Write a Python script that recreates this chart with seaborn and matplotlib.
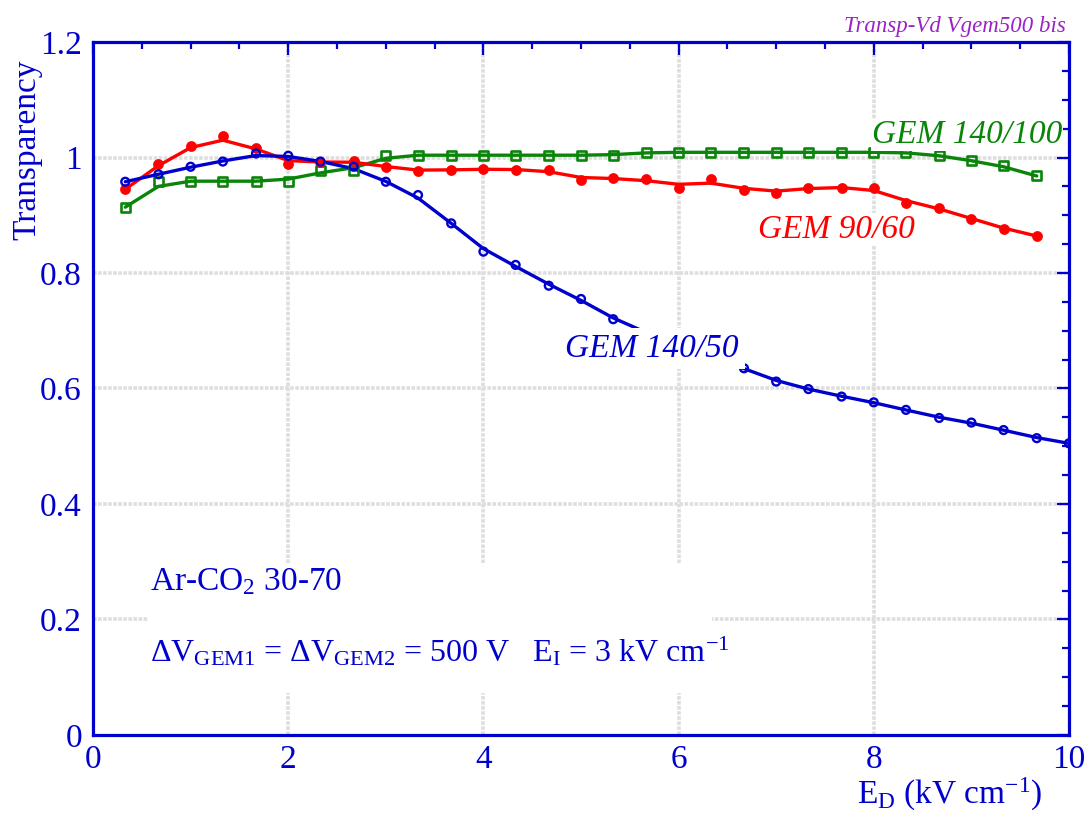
import numpy as np
import pandas as pd
import matplotlib
matplotlib.use("Agg")
import matplotlib.pyplot as plt
import seaborn as sns
from matplotlib.ticker import MultipleLocator
from matplotlib.patches import Rectangle

# ---------------- data ----------------
ed_field = [0.33, 0.67, 1.0, 1.33, 1.67, 2.0, 2.33, 2.67, 3.0, 3.33, 3.67, 4.0,
            4.33, 4.67, 5.0, 5.33, 5.67, 6.0, 6.33, 6.67, 7.0, 7.33, 7.67, 8.0,
            8.33, 8.67, 9.0, 9.33, 9.67]
ed_field_blue = ed_field + [10.0]

gem_140_50 = [0.958, 0.971, 0.984, 0.993, 1.007, 1.003, 0.993, 0.984, 0.958,
              0.935, 0.886, 0.837, 0.814, 0.778, 0.755, 0.720, 0.696, 0.676,
              0.655, 0.635, 0.612, 0.599, 0.586, 0.576, 0.563, 0.549, 0.541,
              0.528, 0.514, 0.505]
gem_90_60 = [0.945, 0.988, 1.020, 1.038, 1.016, 0.988, 0.993, 0.994, 0.984,
             0.976, 0.979, 0.980, 0.979, 0.979, 0.961, 0.965, 0.962, 0.948,
             0.962, 0.944, 0.939, 0.948, 0.948, 0.948, 0.922, 0.913, 0.894,
             0.877, 0.864]
gem_140_100 = [0.914, 0.959, 0.959, 0.959, 0.959, 0.959, 0.977, 0.977, 1.004,
               1.004, 1.004, 1.004, 1.004, 1.004, 1.004, 1.004, 1.009, 1.009,
               1.009, 1.009, 1.009, 1.009, 1.009, 1.009, 1.009, 1.004, 0.994,
               0.986, 0.968]

series_labels = ["GEM 140/50", "GEM 90/60", "GEM 140/100"]
x_ticks = [0, 2, 4, 6, 8, 10]
y_ticks = [0, 0.2, 0.4, 0.6, 0.8, 1.0, 1.2]
y_tick_labels = ["0", "0.2", "0.4", "0.6", "0.8", "1", "1.2"]

BLUE = "#0000cc"
RED = "#ff0000"
GREEN = "#0a850a"
PURPLE = "#9a22c8"


def smooth(values):
    v = np.asarray(values, dtype=float)
    out = v.copy()
    out[1:-1] = 0.2 * v[:-2] + 0.6 * v[1:-1] + 0.2 * v[2:]
    return out


# ---------------- style ----------------
sns.set_style("white")
plt.rcParams["font.family"] = ["Liberation Serif", "DejaVu Serif"]
plt.rcParams["mathtext.fontset"] = "custom"
plt.rcParams["mathtext.rm"] = "Liberation Serif"
plt.rcParams["mathtext.it"] = "Liberation Serif:italic"

fig = plt.figure(figsize=(10.87, 8.19), dpi=100)
ax = fig.add_axes([0.0856, 0.1026, 0.8978, 0.8461])

# grid
for gx in [2, 4, 6, 8]:
    ax.axvline(gx, color="#dedede", lw=2.6, ls=(0, (1, 0.4)), zorder=0.5)
for gy in [0.2, 0.4, 0.6, 0.8, 1.0]:
    ax.axhline(gy, color="#dedede", lw=2.6, ls=(0, (1, 0.4)), zorder=0.5)

df_b = pd.DataFrame({"x": ed_field_blue, "y": gem_140_50, "ys": smooth(gem_140_50)})
df_r = pd.DataFrame({"x": ed_field, "y": gem_90_60, "ys": smooth(gem_90_60)})
df_g = pd.DataFrame({"x": ed_field, "y": gem_140_100, "ys": smooth(gem_140_100)})

for df, col in [(df_g, GREEN), (df_r, RED), (df_b, BLUE)]:
    sns.lineplot(data=df, x="x", y="ys", color=col, lw=2.4, ax=ax,
                 sort=False, estimator=None, zorder=3)

sns.scatterplot(data=df_g, x="x", y="y", marker="s", s=42, facecolors="none",
                edgecolors=GREEN, linewidth=1.9, ax=ax, zorder=4)
sns.scatterplot(data=df_r, x="x", y="y", marker="o", s=52, color=RED,
                edgecolor=RED, linewidth=0.5, ax=ax, zorder=4)
sns.scatterplot(data=df_b, x="x", y="y", marker="o", s=32, facecolors="none",
                edgecolors=BLUE, linewidth=1.7, ax=ax, zorder=4)

# axes
ax.set_xlim(0, 10)
ax.set_ylim(0, 1.2)
ax.set_xticks(x_ticks)
ax.set_xticklabels([str(t) for t in x_ticks])
ax.set_yticks(y_ticks)
ax.set_yticklabels(y_tick_labels)
ax.xaxis.set_minor_locator(MultipleLocator(0.5))
ax.yaxis.set_minor_locator(MultipleLocator(0.05))
ax.tick_params(which="both", direction="in", top=True, right=True,
               colors=BLUE, width=1.6, labelsize=24, labelcolor=BLUE)
ax.tick_params(which="major", length=9)
ax.tick_params(which="minor", length=5)
ax.tick_params(axis="x", which="major", pad=7)
ax.tick_params(axis="y", which="major", pad=8)
ax.tick_params(top=True, right=True, labeltop=False, labelright=False)
for sp in ax.spines.values():
    sp.set_color(BLUE)
    sp.set_linewidth(2.3)
    sp.set_zorder(10)

ax.set_xlabel(r"E$_{\rm D}$ (kV cm$^{-1}$)", fontsize=24, color=BLUE)
ax.xaxis.set_label_coords(0.878, -0.059)
ax.set_ylabel("Transparency", fontsize=24, color=BLUE)
ax.yaxis.set_label_coords(-0.052, 0.845)

# curve labels with white background
box = dict(facecolor="white", edgecolor="none", pad=4)
ax.text(4.84, 0.655, series_labels[0], color=BLUE, fontsize=24, style="italic",
        ha="left", va="baseline", bbox=box, zorder=6)
ax.text(6.81, 0.861, series_labels[1], color=RED, fontsize=24, style="italic",
        ha="left", va="baseline", bbox=dict(facecolor="white", edgecolor="none", pad=1),
        zorder=6)
ax.text(7.98, 1.025, series_labels[2], color=GREEN, fontsize=24, style="italic",
        ha="left", va="baseline", bbox=dict(facecolor="white", edgecolor="none", pad=0.5),
        zorder=6)

# annotation block
ax.add_patch(Rectangle((0.056, 0.061), 0.578, 0.187, transform=ax.transAxes,
                       facecolor="white", edgecolor="none", zorder=1))
ax.text(0.58, 0.251, r"Ar-CO$_2$ 30-70", color=BLUE, fontsize=24,
        ha="left", va="baseline", zorder=6)
ax.text(0.58, 0.127,
        r"ΔV$_{\rm GEM1}$ = ΔV$_{\rm GEM2}$ = 500 V   E$_{\rm I}$ = 3 kV cm$^{-1}$",
        color=BLUE, fontsize=23, ha="left", va="baseline", zorder=6)

fig.text(0.98, 0.961, "Transp-Vd Vgem500 bis", color=PURPLE, fontsize=16.5,
         style="italic", ha="right", va="baseline")

fig.savefig("out.png", dpi=100)
